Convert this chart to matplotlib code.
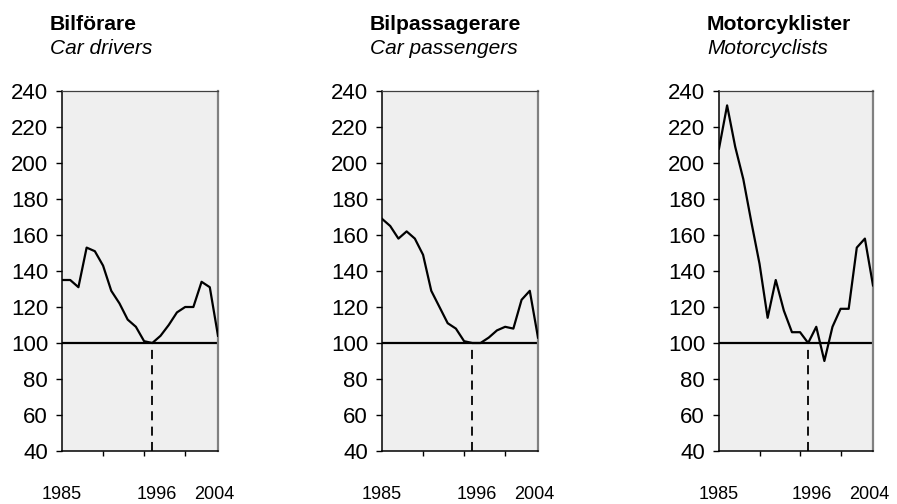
import numpy as np
import matplotlib
matplotlib.use("Agg")
import matplotlib.pyplot as plt
import matplotlib.transforms as mtransforms

plt.rcParams["font.family"] = ["Liberation Sans", "DejaVu Sans"]

years = list(range(1985, 2005))
base_year = 1996
base_index = 100

titles_sv = ["Bilförare", "Bilpassagerare", "Motorcyklister"]
titles_en = ["Car drivers", "Car passengers", "Motorcyclists"]

car_drivers = [135, 135, 131, 153, 151, 143, 129, 122, 113, 109,
               101, 100, 104, 110, 117, 120, 120, 134, 131, 104]
car_passengers = [169, 165, 158, 162, 158, 149, 129, 120, 111, 108,
                  101, 100, 100, 103, 107, 109, 108, 124, 129, 103]
motorcyclists = [208, 232, 209, 191, 167, 144, 114, 135, 118, 106,
                 106, 100, 109, 90, 109, 119, 119, 153, 158, 132]
series = [car_drivers, car_passengers, motorcyclists]

label_years = [1985, 1996, 2004]
y_ticks = list(range(40, 241, 20))

W, H = 897, 504
fig = plt.figure(figsize=(W / 100, H / 100), dpi=100)

lefts = [62, 382, 719]
widths = [156, 156, 154]
top, bottom = 91, 451
label_nudge = [0, 4, -4]  # px, the year labels sit a bit off their ticks

for left, width, values, t_sv, t_en in zip(lefts, widths, series, titles_sv, titles_en):
    ax = fig.add_axes([left / W, (H - bottom) / H, width / W, (bottom - top) / H])
    ax.set_facecolor("#efefef")
    ax.plot(years, values, color="black", lw=1.6, zorder=3)
    ax.axhline(base_index, color="black", lw=1.6, zorder=2)
    ax.vlines(base_year, y_ticks[0], base_index, color="black", lw=1.3,
              linestyles=(0, (5, 3.5)), zorder=2)

    ax.set_xlim(years[0], years[-1])
    ax.set_ylim(y_ticks[0], y_ticks[-1])
    ax.set_yticks(y_ticks)
    ax.tick_params(axis="y", labelsize=16, length=4, width=1, pad=6, direction="out")

    ax.set_xticks([1990, 1995, 2000])
    ax.set_xticklabels([])
    ax.tick_params(axis="x", which="major", length=3.5, width=1, direction="out")
    ax.set_xticks(label_years, [str(y) for y in label_years], minor=True)
    ax.tick_params(axis="x", which="minor", length=0, pad=25, labelsize=13)
    for lbl, dx in zip(ax.get_xticklabels(minor=True), label_nudge):
        lbl.set_transform(lbl.get_transform() +
                          mtransforms.ScaledTranslation(dx / 100, 0, fig.dpi_scale_trans))

    for side in ["left", "bottom"]:
        ax.spines[side].set_color("black")
        ax.spines[side].set_linewidth(1.1)
    ax.spines["top"].set_color("#404040")
    ax.spines["top"].set_linewidth(0.9)
    ax.spines["right"].set_color("#808080")
    ax.spines["right"].set_linewidth(1.6)

    fig.text((left - 12) / W, 1 - 30 / H, t_sv, fontsize=15.2, fontweight="bold",
             ha="left", va="baseline")
    fig.text((left - 12) / W, 1 - 54 / H, t_en, fontsize=15, style="italic",
             ha="left", va="baseline")

fig.savefig("out.png", dpi=100)
